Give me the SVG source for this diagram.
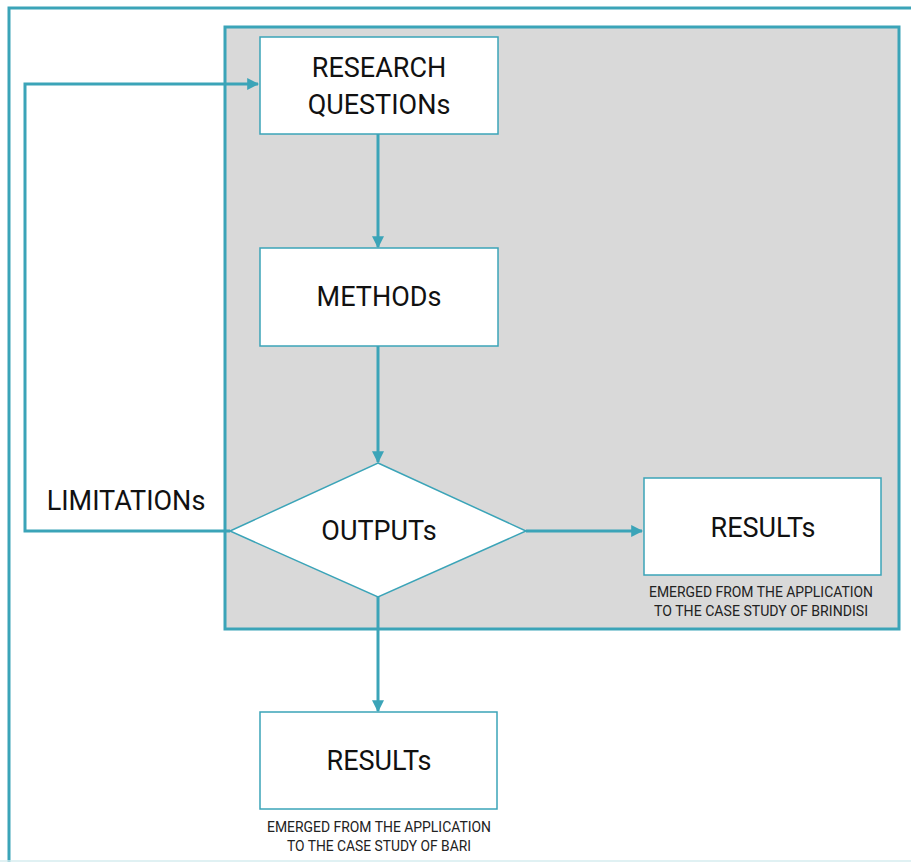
<svg xmlns="http://www.w3.org/2000/svg" width="911" height="862" viewBox="0 0 911 862">
<style>
.box{fill:#fff;stroke:#3ba4b8;stroke-width:1.5}
.line{fill:none;stroke:#3ba4b8;stroke-width:3}
.t{font-family:Roboto,"Liberation Sans",sans-serif;font-size:27px;fill:#111;text-anchor:middle}
.s{font-family:Roboto,"Liberation Sans",sans-serif;font-size:14px;fill:#222;text-anchor:middle}
</style>
<defs>
<marker id="ah" viewBox="0 0 10 10" refX="9" refY="5" markerWidth="4" markerHeight="4" orient="auto" markerUnits="strokeWidth">
<path d="M0,0 L10,5 L0,10 z" fill="#3ba4b8"/>
</marker>
</defs>
<rect width="911" height="862" fill="#fff"/>
<g id="frame">
<path d="M9,862 V8 H911" fill="none" stroke="#3ba4b8" stroke-width="3"/>
<line x1="0" y1="861" x2="911" y2="861" stroke="#d6ecef" stroke-width="1.5"/>
</g>
<g id="panel">
<rect x="225" y="27" width="674" height="602" fill="#d9d9d9" stroke="#3ba4b8" stroke-width="3"/>
</g>
<g id="connectors">
<line class="line" x1="378" y1="134" x2="378" y2="247" marker-end="url(#ah)"/>
<line class="line" x1="378" y1="346" x2="378" y2="462" marker-end="url(#ah)"/>
<line class="line" x1="526" y1="531" x2="642" y2="531" marker-end="url(#ah)"/>
<line class="line" x1="378" y1="597" x2="378" y2="711" marker-end="url(#ah)"/>
<path class="line" d="M230,531 H25 V84 H258" marker-end="url(#ah)"/>
</g>
<g id="research">
<rect class="box" x="260" y="37" width="238" height="97"/>
<text class="t" x="379" y="77">RESEARCH</text>
<text class="t" x="379" y="114">QUESTIONs</text>
</g>
<g id="methods">
<rect class="box" x="260" y="248" width="238" height="98"/>
<text class="t" x="379" y="306">METHODs</text>
</g>
<g id="outputs">
<polygon class="box" points="378,463 526,531 378,597 230,531"/>
<text class="t" x="379" y="540">OUTPUTs</text>
</g>
<g id="results-brindisi">
<rect class="box" x="644" y="478" width="237" height="97"/>
<text class="t" x="763" y="537">RESULTs</text>
<text class="s" x="761" y="597" textLength="224" lengthAdjust="spacingAndGlyphs">EMERGED FROM THE APPLICATION</text>
<text class="s" x="761" y="616" textLength="214" lengthAdjust="spacingAndGlyphs">TO THE CASE STUDY OF BRINDISI</text>
</g>
<g id="results-bari">
<rect class="box" x="260" y="712" width="237" height="97"/>
<text class="t" x="379" y="770">RESULTs</text>
<text class="s" x="379" y="832" textLength="224" lengthAdjust="spacingAndGlyphs">EMERGED FROM THE APPLICATION</text>
<text class="s" x="379" y="851" textLength="184" lengthAdjust="spacingAndGlyphs">TO THE CASE STUDY OF BARI</text>
</g>
<g id="limitations">
<text class="t" x="126" y="510">LIMITATIONs</text>
</g>
</svg>
